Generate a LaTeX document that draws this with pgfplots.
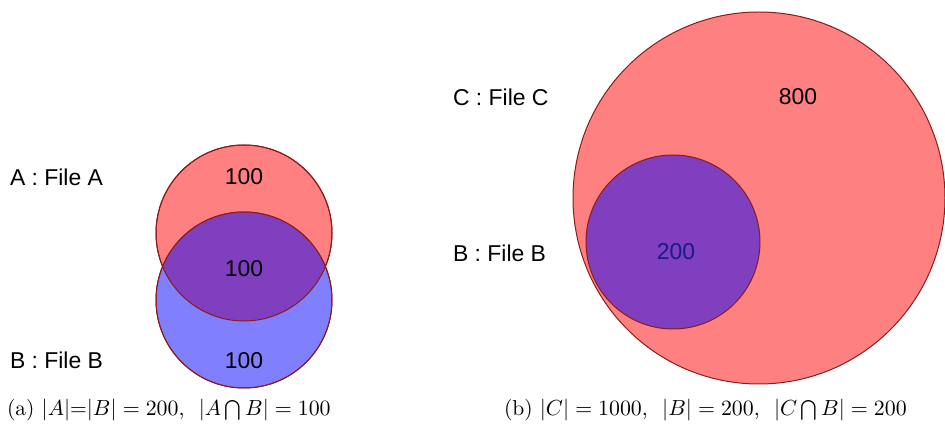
\documentclass[border=0pt]{standalone}
\usepackage{pgfplots}
\pgfplotsset{compat=1.18}
\usepackage{fontspec}
\newfontfamily\arial{Liberation Sans}
\definecolor{vred}{HTML}{FF8080}
\definecolor{vblue}{HTML}{8080FF}
\definecolor{vpurple}{HTML}{7F3FBF}
\definecolor{vedge}{HTML}{8B1A1A}
\definecolor{vnum}{HTML}{1A1A8C}
\begin{document}
\begin{tikzpicture}
\begin{axis}[
    x=0.5bp, y=0.5bp,
    xmin=0, xmax=945, ymin=0, ymax=431,
    y dir=reverse,
    hide axis,
    clip=false,
    nodes={font=\arial\fontsize{11.5}{13}\selectfont},
]
% panel (a): A centre (244,233) r 88, B centre (244,300) r 88
\draw[fill=vred, draw=vedge, line width=0.5pt] (axis cs:244,233) circle [radius=88];
\draw[fill=vblue, draw=vedge, line width=0.5pt] (axis cs:244,300) circle [radius=88];
\begin{scope}
  \clip (axis cs:244,233) circle [radius=88];
  \fill[vpurple] (axis cs:244,300) circle [radius=88];
\end{scope}
\draw[vedge, line width=0.5pt] (axis cs:244,233) circle [radius=88];
\draw[vedge, line width=0.5pt] (axis cs:244,300) circle [radius=88];
\node[anchor=west] at (axis cs:3,177) {A : File A};
\node[anchor=west] at (axis cs:3,360) {B : File B};
\node at (axis cs:244,177) {100};
\node at (axis cs:244,269) {100};
\node at (axis cs:244,361) {100};

% panel (b): C centre (759,198) r 186, B centre (673,242) r 87
\draw[fill=vred, draw=vedge, line width=0.5pt] (axis cs:759,198) circle [radius=186];
\draw[fill=vpurple, draw=vedge, line width=0.5pt] (axis cs:673,242) circle [radius=87];
\node[anchor=west] at (axis cs:446,97) {C : File C};
\node[anchor=west] at (axis cs:446,253) {B : File B};
\node at (axis cs:798,97) {800};
\node[text=vnum] at (axis cs:676,252) {200};

% captions
\node[anchor=west, font=\rmfamily\fontsize{10.8}{13}\selectfont] at (axis cs:0,410)
  {(a) $|A|$=$|B| = 200$,\ \ $|A\bigcap B| = 100$};
\node[anchor=west, font=\rmfamily\fontsize{10.8}{13}\selectfont] at (axis cs:497,410)
  {(b) $|C| = 1000$,\ \ $|B| = 200$,\ \ $|C\bigcap B| = 200$};

\coordinate (tl) at (axis cs:0,0);
\coordinate (br) at (axis cs:945,431);
\end{axis}
\pgfresetboundingbox
\path[use as bounding box] (tl) rectangle (br);
\end{tikzpicture}
\end{document}
